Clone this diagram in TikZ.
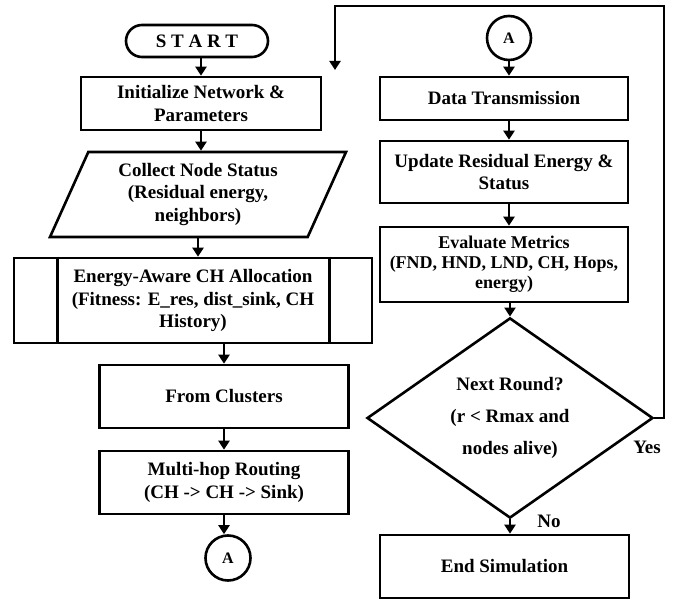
\documentclass[tikz,border=0pt]{standalone}
\usepackage{fontspec}
\setmainfont{Liberation Serif}
\usetikzlibrary{shapes.geometric,shapes.misc,arrows.meta}

\tikzset{
    base/.style={draw, line width=2.6pt, align=center, inner sep=2pt,
        font=\bfseries\fontsize{19}{22.5}\selectfont},
    procbox/.style={base, rectangle},
    termbox/.style={base, rounded rectangle},
    iobox/.style={base, trapezium, trapezium left angle=60,
        trapezium right angle=120, trapezium stretches body},
    decbox/.style={base, diamond, inner sep=0pt,
        font=\bfseries\fontsize{19}{32}\selectfont},
    connbox/.style={base, circle, inner sep=0pt,
        font=\bfseries\fontsize{16}{18}\selectfont},
    arr/.style={line width=2.6pt, -{Triangle[length=9pt,width=11pt]}}
}

\begin{document}
\begin{tikzpicture}[x=1pt, y=-1pt]
    \useasboundingbox (0,0) rectangle (674,601);

    % Left column
    \node[termbox, minimum width=146, minimum height=32] (start) at (197,41) {S T A R T};
    \node[procbox, minimum width=240, minimum height=53] (init) at (201,103.5) {Initialize Network \&\\Parameters};
    \node[iobox, minimum width=296, minimum height=85] (collect) at (198,194.5) {Collect Node Status\\(Residual energy,\\neighbors)};
    \node[procbox, minimum width=358, minimum height=85] (alloc) at (193,300.5) {Energy-Aware CH Allocation\\(Fitness: E\_res, dist\_sink, CH\\History)};
    \node[procbox, minimum width=249, minimum height=63] (clusters) at (224,396.5) {From Clusters};
    \node[procbox, minimum width=249, minimum height=63] (routing) at (224,482.5) {Multi-hop Routing\\(CH -> CH -> Sink)};
    \node[connbox, minimum size=45] (connA) at (228,558) {A};

    % Inner bars of the predefined process
    \draw[line width=2.6pt] ([xshift=45pt]alloc.north west) -- ([xshift=45pt]alloc.south west);
    \draw[line width=2.6pt] ([xshift=-44pt]alloc.north east) -- ([xshift=-44pt]alloc.south east);

    % Right column
    \node[connbox, minimum size=44] (connB) at (509,38) {A};
    \node[procbox, minimum width=248, minimum height=43] (trans) at (504,98.5) {Data Transmission};
    \node[procbox, minimum width=248, minimum height=62] (update) at (504,172) {Update Residual Energy \&\\Status};
    \node[procbox, minimum width=248, minimum height=75, font=\bfseries\fontsize{18}{20}\selectfont] (metrics) at (504,264.5) {Evaluate Metrics\\(FND, HND, LND, CH, Hops,\\energy)};
    \node[decbox, minimum width=286, minimum height=191] (round) at (510,418) {Next Round?\\(r < Rmax and\\nodes alive)};
    \node[procbox, minimum width=249, minimum height=63] (stop) at (504.5,566.5) {End Simulation};

    % Loop coordinates
    \coordinate (looptop) at (664,6);
    \coordinate (loopend) at (335,70);

    % Edges
    \draw[arr] (start.south -| init.north) -- (init.north);
    \draw[arr] (init.south) -- (init.south |- collect.north);
    \draw[arr] (collect.south) -- (collect.south |- alloc.north);
    \draw[arr] (alloc.south -| clusters.north) -- (clusters.north);
    \draw[arr] (clusters.south) -- (routing.north);
    \draw[arr] (routing.south) -- (routing.south |- connA.north);
    \draw[arr] (connB.south) -- (connB.south |- trans.north);
    \draw[arr] (trans.south -| connB.south) -- (update.north -| connB.south);
    \draw[arr] (update.south -| connB.south) -- (metrics.north -| connB.south);
    \draw[arr] (metrics.south -| round.north) -- (round.north);
    \draw[arr] (round.south) -- (round.south |- stop.north);
    \draw[arr] (round.east) -| (looptop) -| (loopend);

    % Branch labels
    \node[font=\bfseries\fontsize{19}{22}\selectfont] (yes) at (647,447) {Yes};
    \node[font=\bfseries\fontsize{19}{22}\selectfont] (no) at (549,521) {No};
\end{tikzpicture}
\end{document}
